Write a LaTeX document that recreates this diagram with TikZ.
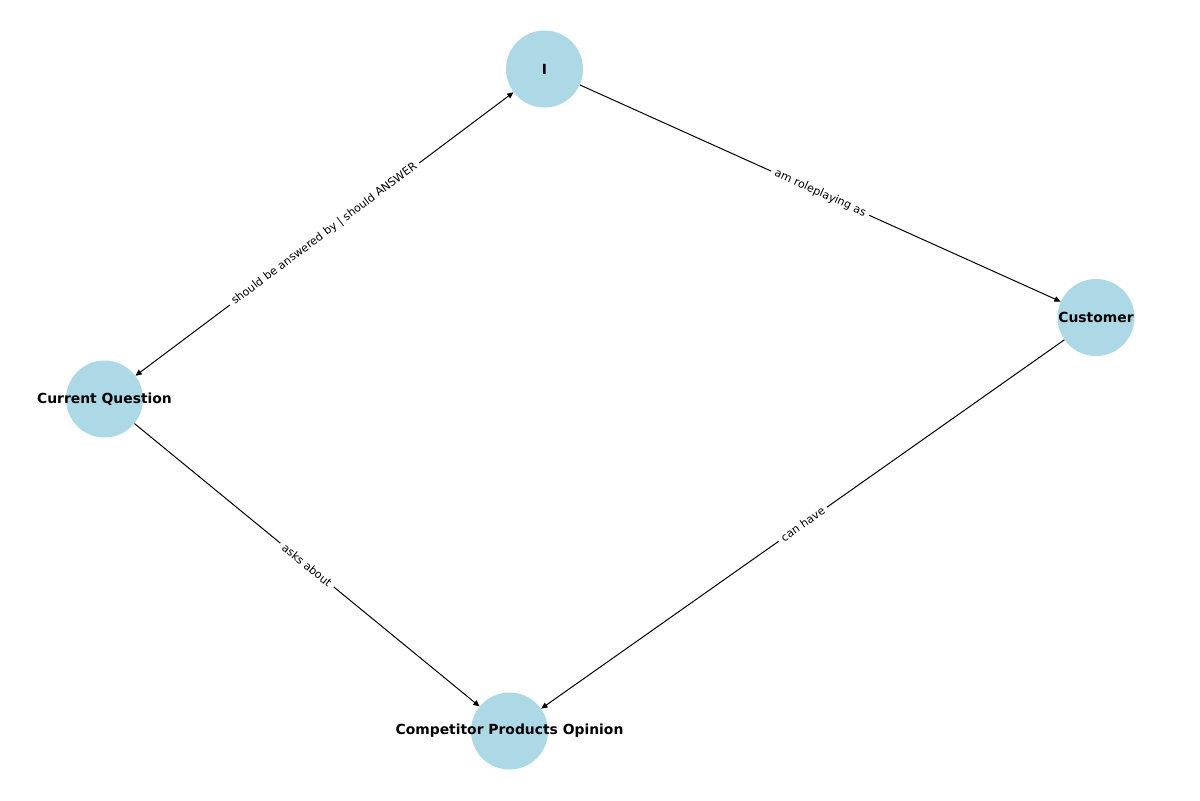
\documentclass[tikz,border=0pt]{standalone}
\usepackage{fontspec}
\setmainfont{DejaVu Sans}
\usetikzlibrary{arrows.meta}
\begin{document}
\begin{tikzpicture}[x=0.72pt,y=-0.72pt,
  vertex/.style={circle,fill=lightblue,minimum size=77*0.72pt,inner sep=0pt},
  vlabel/.style={font=\bfseries\fontsize{10}{12}\selectfont,inner sep=0pt},
  conn/.style={line width=0.72pt,-{Triangle[length=4.5pt,width=4pt]}},
  elabel/.style={font=\fontsize{8}{9.6}\selectfont,fill=white,inner xsep=3pt,inner ysep=2pt,sloped,midway}]
\definecolor{lightblue}{HTML}{ADD8E6}
\useasboundingbox (0,0) rectangle (1200,800);
\node[vertex] (I) at (544.5,69) {};
\node[vertex] (C) at (1096,317.5) {};
\node[vertex] (Q) at (104.5,399) {};
\node[vertex] (P) at (509.5,731) {};
\node[vlabel] (Il) at (I) {I};
\node[vlabel] (Cl) at (C) {Customer};
\node[vlabel] (Ql) at (Q) {Current Question};
\node[vlabel] (Pl) at (P) {Competitor Products Opinion};
\draw[conn] (I) -- node[elabel] {am roleplaying as} (C);
\draw[conn,{Triangle[length=4.5pt,width=4pt]}-{Triangle[length=4.5pt,width=4pt]}] (Q) -- node[elabel] {should be answered by | should ANSWER} (I);
\draw[conn] (Q) -- node[elabel] {asks about} (P);
\draw[conn] (C) -- node[elabel] {can have} (P);
\end{tikzpicture}
\end{document}
